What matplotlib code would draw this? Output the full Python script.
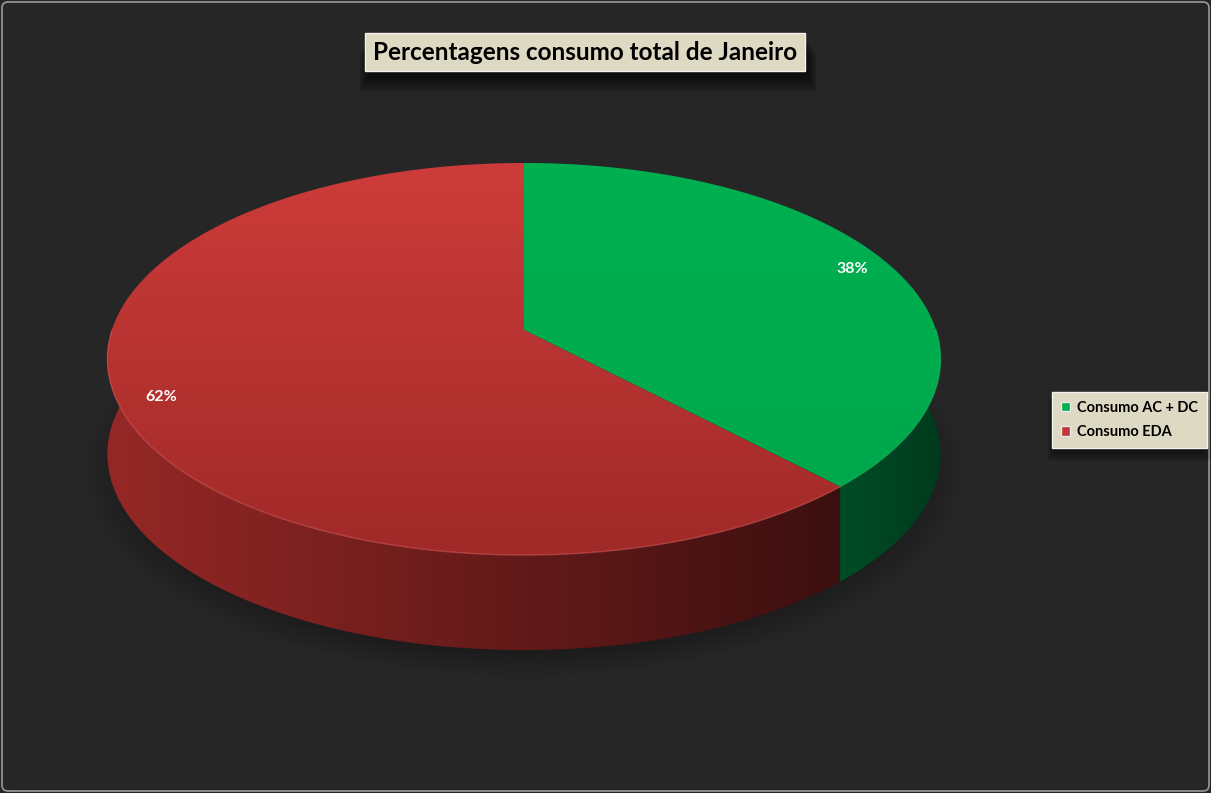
import numpy as np
import matplotlib
matplotlib.use("Agg")
import matplotlib.pyplot as plt
from matplotlib.patches import Polygon, Rectangle, FancyBboxPatch, Patch

plt.rcParams['font.family'] = ['Lato', 'DejaVu Sans']

# chart data
labels = ['Consumo AC + DC', 'Consumo EDA']
values = [38, 62]
pct_labels = ['38%', '62%']
title = 'Percentagens consumo total de Janeiro'

top_colors = [('#00b050', '#00a84d'), ('#cd3c3a', '#a02a28')]
side_colors = [('#004d27', '#003a1d'), ('#952826', '#3c0f0f')]
legend_colors = ['#00b050', '#c0393a']

W, H = 1211, 793
fig = plt.figure(figsize=(W / 100, H / 100), dpi=100)
fig.patch.set_facecolor('#262626')
ax = fig.add_axes([0, 0, 1, 1])
ax.set_xlim(0, W)
ax.set_ylim(H, 0)
ax.axis('off')

# outer frame
ax.add_patch(FancyBboxPatch((2, 2), W - 4, H - 4, boxstyle='round,pad=0,rounding_size=6',
                            facecolor='#262626', edgecolor='#9a9a9a', lw=1.2, zorder=0))

# pie geometry (pixel space, mild perspective)
cx, cy = 524, 330          # projected centre of the pie
sx = 412                   # horizontal scale
py, rr = -142.9, 0.148     # vertical projection terms
depth = 95


def pt(t, r=1.0, dy=0.0):
    t = np.radians(t)
    u, v = r * np.cos(t), r * np.sin(t)
    d = 1 + rr * v
    return cx + sx * u / d, (py * v + cy) / d + dy


def grad_fill(poly, c0, c1, horizontal, z):
    poly.set_facecolor('none')
    poly.set_edgecolor('none')
    ax.add_patch(poly)
    x0, y0 = poly.get_xy().min(axis=0)
    x1, y1 = poly.get_xy().max(axis=0)
    cmap = matplotlib.colors.LinearSegmentedColormap.from_list('g', [c0, c1])
    g = np.linspace(0, 1, 256)
    img = g[None, :] if horizontal else g[:, None]
    im = ax.imshow(img, cmap=cmap, extent=(x0, x1, y1, y0), origin='upper',
                   aspect='auto', zorder=z, interpolation='bilinear')
    im.set_clip_path(poly)


# faint floor shadow under the pie
tt = np.linspace(0, 360, 240)
for i in range(10):
    s = 0.96 + i * 0.01
    ring = np.array([pt(t, s, depth + 14) for t in tt])
    ax.add_patch(Polygon(ring, closed=True, facecolor='black', alpha=0.025,
                         edgecolor='none', zorder=1))

# slice angles, clockwise from 12 o'clock
total = sum(values)
starts, ends = [], []
ang = 90.0
for v in values:
    starts.append(ang)
    ang -= 360.0 * v / total
    ends.append(ang)

# side walls (front half only)
for i in range(len(values)):
    hi, lo = starts[i], ends[i]
    for k in (0, -360):
        s0 = max(lo, -190 + k)
        s1 = min(hi, 10 + k)
        if s1 <= s0:
            continue
        tt = np.linspace(s1, s0, 160)
        top = np.array([pt(t) for t in tt])
        bot = np.array([pt(t, 1.0, depth) for t in tt[::-1]])
        grad_fill(Polygon(np.vstack([top, bot]), closed=True), side_colors[i][0],
                  side_colors[i][1], True, 2)
    # rim highlight
    s0, s1 = max(lo, -180), min(hi, 0)
    if s1 > s0:
        tt = np.linspace(s1, s0, 160)
        rim = np.array([pt(t) for t in tt])
        ax.plot(rim[:, 0], rim[:, 1], color='#e06060' if i == 1 else '#20c060',
                lw=1.0, alpha=0.5, zorder=4)

# top faces
for i in range(len(values)):
    tt = np.linspace(starts[i], ends[i], 240)
    arc = np.array([pt(t) for t in tt])
    poly = Polygon(np.vstack([[cx, cy], arc]), closed=True)
    grad_fill(poly, top_colors[i][0], top_colors[i][1], False, 3)

# percentage labels
for i in range(len(values)):
    lx, ly = pt((starts[i] + ends[i]) / 2, 0.9)
    ax.text(lx, ly, pct_labels[i], color='white', fontsize=11.5, fontweight='bold',
            ha='center', va='center', zorder=6)

# title box with shadow
for i in range(10):
    ax.add_patch(Rectangle((368 - i, 40 + i * 1.6), 440 + 2 * i, 38, facecolor='black',
                           alpha=0.07, edgecolor='none', zorder=6))
ax.add_patch(Rectangle((365, 33), 440, 38, facecolor='#ddd9c3', edgecolor='#f4f2ea',
                       lw=1, zorder=7))
ax.text(585, 52, title, fontsize=17.5, fontweight='bold', color='black',
        ha='center', va='center', zorder=8)

# legend
for i in range(8):
    ax.add_patch(Rectangle((1054 - i, 393 + i * 1.2), 150 + 2 * i, 60, facecolor='black',
                           alpha=0.06, edgecolor='none', zorder=6))
handles = [Patch(facecolor=c, edgecolor='#e8e8e8', lw=1) for c in legend_colors]
leg = ax.legend(handles, labels, loc='center left', bbox_to_anchor=(1052 / W, 1 - 420 / H),
                borderaxespad=0, frameon=True, fancybox=False, handlelength=0.6,
                handleheight=0.6, handletextpad=0.5, borderpad=0.6, labelspacing=0.7,
                prop={'weight': 'bold', 'size': 10.5})
leg.get_frame().set_facecolor('#ddd9c3')
leg.get_frame().set_edgecolor('#f4f2ea')
leg.get_frame().set_alpha(1)
leg.set_zorder(9)

fig.savefig('out.png', dpi=100, facecolor=fig.get_facecolor())
